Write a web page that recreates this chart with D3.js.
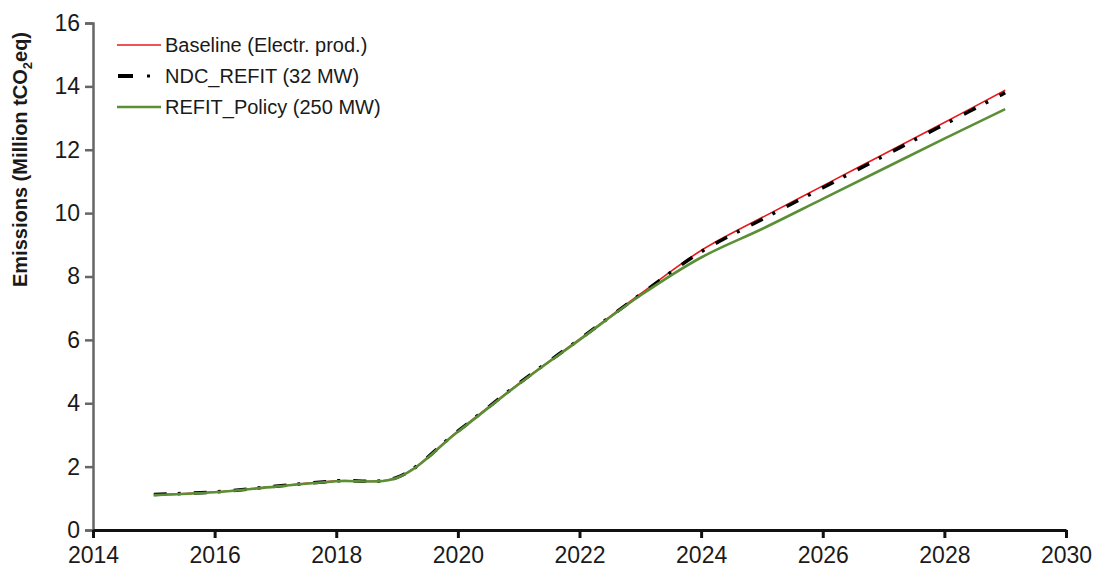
<!DOCTYPE html>
<meta charset="utf-8">
<style>
  body { margin: 0; background: #fff; font-family: "Liberation Sans", Arial, sans-serif; }
  svg { display: block; }
  .tick text { font-size: 23px; fill: #1a1a1a; }
  .legend text { font-size: 20px; fill: #1a1a1a; }
</style>
<body>
<div id="chart"></div>
<script src="https://cdn.jsdelivr.net/npm/d3@7"></script>
<script>

var width = 1094,
    height = 568;

var margin = {top: 23, right: 28, bottom: 38, left: 93};

// data
var years = [2015, 2016, 2017, 2018, 2019, 2020, 2021, 2022, 2023, 2024, 2025, 2026, 2027, 2028, 2029];
var baseline = [1.12, 1.2, 1.38, 1.55, 1.66, 3.12, 4.62, 6.02, 7.45, 8.82, 9.86, 10.86, 11.86, 12.86, 13.88];
var ndcRefit = [1.12, 1.2, 1.38, 1.55, 1.66, 3.12, 4.62, 6.02, 7.43, 8.78, 9.8, 10.8, 11.8, 12.8, 13.8];
var refitPolicy = [1.1, 1.19, 1.37, 1.54, 1.65, 3.1, 4.6, 6.0, 7.4, 8.6, 9.5, 10.45, 11.4, 12.35, 13.28];

var xTicks = [2014, 2016, 2018, 2020, 2022, 2024, 2026, 2028, 2030];
var yTicks = [0, 2, 4, 6, 8, 10, 12, 14, 16];

var seriesNames = ["Baseline (Electr. prod.)", "NDC_REFIT (32 MW)", "REFIT_Policy (250 MW)"];

var series = [
  {name: seriesNames[0], values: baseline, color: "#e8191c", width: 1.6, dash: null},
  {name: seriesNames[1], values: ndcRefit, color: "#000", width: 3.5, dash: "13,11,3,13"},
  {name: seriesNames[2], values: refitPolicy, color: "#5b8f35", width: 2.6, dash: null}
];

var svg = d3.select("#chart").append("svg")
  .attr("width", width)
  .attr("height", height);

var x = d3.scaleLinear().domain([2014, 2030]).range([margin.left, width - margin.right]);
var y = d3.scaleLinear().domain([0, 16]).range([height - margin.bottom, margin.top]);

// y axis (grey line, ticks outside)
var yAxis = svg.append("g")
  .attr("transform", "translate(" + margin.left + ",0)")
  .call(d3.axisLeft(y).tickValues(yTicks).tickSize(8).tickPadding(5).tickFormat(d3.format("d")));
yAxis.select(".domain").attr("stroke", "#666").attr("stroke-width", 2.5);
yAxis.selectAll(".tick line").attr("stroke", "#666").attr("stroke-width", 2.5);
yAxis.selectAll(".tick text").attr("font-family", null).attr("font-size", null);

// x axis (black)
var xAxis = svg.append("g")
  .attr("transform", "translate(0," + (height - margin.bottom) + ")")
  .call(d3.axisBottom(x).tickValues(xTicks).tickSize(8).tickSizeOuter(0).tickPadding(9).tickFormat(d3.format("d")));
xAxis.select(".domain").attr("stroke", "#111").attr("stroke-width", 3);
xAxis.selectAll(".tick line").attr("stroke", "#111").attr("stroke-width", 3);
xAxis.selectAll(".tick text").attr("font-family", null).attr("font-size", null);

// y title
var title = svg.append("text")
  .attr("transform", "translate(27,287) rotate(-90)")
  .attr("font-size", 20)
  .attr("font-weight", "bold")
  .attr("fill", "#1a1a1a");
title.append("tspan").text("Emissions (Million tCO");
title.append("tspan").attr("font-size", 13).attr("dy", 5).text("2");
title.append("tspan").attr("dy", -5).text("eq)");

var line = d3.line()
  .x(function(d, i) { return x(years[i]); })
  .y(function(d) { return y(d); })
  .curve(d3.curveCatmullRom.alpha(0.5));

// red under the dashed black, green on top
series.forEach(function(s) {
  svg.append("path")
    .datum(s.values)
    .attr("fill", "none")
    .attr("stroke", s.color)
    .attr("stroke-width", s.width)
    .attr("stroke-dasharray", s.dash)
    .attr("d", line);
});

// legend
var legend = svg.append("g").attr("class", "legend");
series.forEach(function(s, i) {
  var ly = 45 + i * 31;
  var g = legend.append("g");
  if (s.dash) {
    g.append("line").attr("x1", 118).attr("x2", 133).attr("y1", ly).attr("y2", ly)
      .attr("stroke", s.color).attr("stroke-width", 4);
    g.append("line").attr("x1", 147).attr("x2", 150).attr("y1", ly).attr("y2", ly)
      .attr("stroke", s.color).attr("stroke-width", 3);
  } else {
    g.append("line").attr("x1", 117).attr("x2", 161).attr("y1", ly).attr("y2", ly)
      .attr("stroke", s.color).attr("stroke-width", s.width);
  }
  g.append("text").attr("x", 165).attr("y", ly + 7).text(s.name);
});

</script>
</body>
